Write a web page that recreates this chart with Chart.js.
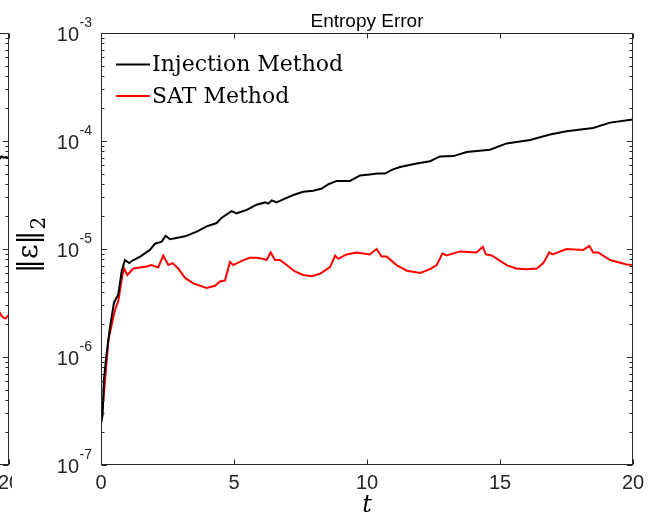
<!DOCTYPE html>
<html>
<head>
<meta charset="utf-8">
<script src="https://cdn.jsdelivr.net/npm/chart.js@4.4.1/dist/chart.umd.min.js"></script>
<style>
body { margin: 0; background: #fff; width: 657px; height: 521px; overflow: hidden; position: relative; }
#main { position: absolute; left: 0; top: 0; }
#leftWrap { position: absolute; left: 0; top: 0; width: 12px; height: 521px; overflow: hidden; }
#left { position: absolute; left: -624px; top: 0; }
</style>
</head>
<body>
<canvas id="main" width="657" height="521"></canvas>
<div id="leftWrap"><canvas id="left" width="657" height="521"></canvas></div>
<script>
// Entropy error
const titleText = 'Entropy Error';
const seriesNames = ['Injection Method', 'SAT Method'];
const seriesColors = ['#000000', '#ff0000'];
const xTicks = [0, 5, 10, 15, 20];
const yExps = [-7, -6, -5, -4, -3];

const tInjection = [0, 0.06, 0.11, 0.21, 0.34, 0.49, 0.65, 0.78, 0.90, 1.06, 1.22, 1.47, 1.84, 2.03, 2.28, 2.43, 2.60,
    3.16, 3.60, 3.97, 4.35, 4.54, 4.91, 5.10, 5.48, 5.85, 6.17, 6.29, 6.42, 6.60, 6.85, 7.23, 7.60, 7.98, 8.30, 8.55,
    8.86, 9.36, 9.74, 10.10, 10.40, 10.68, 10.93, 11.24, 11.87, 12.37, 12.74, 13.25, 13.75, 14.62, 15.25, 16.13,
    16.88, 17.50, 18.50, 19.14, 20.00];
const injection = [2.45e-7, 2.9e-7, 6.2e-7, 1.07e-6, 1.9e-6, 3.2e-6, 3.8e-6, 6.3e-6, 7.9e-6, 7.4e-6, 7.9e-6, 8.5e-6,
    9.8e-6, 1.12e-5, 1.17e-5, 1.32e-5, 1.23e-5, 1.31e-5, 1.45e-5, 1.62e-5, 1.74e-5, 1.95e-5, 2.24e-5, 2.14e-5, 2.3e-5,
    2.57e-5, 2.7e-5, 2.63e-5, 2.82e-5, 2.7e-5, 2.88e-5, 3.16e-5, 3.39e-5, 3.47e-5, 3.63e-5, 3.98e-5, 4.27e-5, 4.27e-5,
    4.8e-5, 4.9e-5, 5.0e-5, 5.0e-5, 5.4e-5, 5.75e-5, 6.2e-5, 6.5e-5, 7.2e-5, 7.25e-5, 7.9e-5, 8.3e-5, 9.5e-5, 1.02e-4,
    1.15e-4, 1.23e-4, 1.32e-4, 1.48e-4, 1.58e-4];

const tSat = [0, 0.09, 0.28, 0.53, 0.65, 0.81, 0.87, 0.99, 1.22, 1.71, 1.90, 2.15, 2.34, 2.53, 2.69, 2.90, 3.16, 3.47,
    3.97, 4.29, 4.47, 4.66, 4.85, 4.97, 5.35, 5.60, 5.85, 6.10, 6.23, 6.38, 6.54, 6.73, 6.98, 7.29, 7.60, 7.92, 8.23,
    8.61, 8.80, 8.92, 9.23, 9.61, 10.10, 10.36, 10.55, 10.74, 11.11, 11.50, 12.00, 12.37, 12.62, 12.84, 12.99, 13.50,
    14.12, 14.35, 14.47, 14.69, 15.25, 15.60, 16.00, 16.38, 16.63, 16.85, 16.98, 17.50, 18.13, 18.36, 18.50, 18.69,
    19.14, 19.76, 20.00];
const sat = [2.45e-7, 4.0e-7, 1.45e-6, 2.75e-6, 3.3e-6, 5.8e-6, 6.6e-6, 5.75e-6, 6.6e-6, 6.9e-6, 7.1e-6, 6.75e-6,
    8.7e-6, 7.1e-6, 7.4e-6, 6.6e-6, 5.4e-6, 4.8e-6, 4.35e-6, 4.57e-6, 5.0e-6, 5.1e-6, 7.6e-6, 7.1e-6, 7.9e-6, 8.3e-6,
    8.3e-6, 8.1e-6, 7.9e-6, 9.3e-6, 7.9e-6, 7.9e-6, 7.1e-6, 6.2e-6, 5.75e-6, 5.6e-6, 5.9e-6, 6.8e-6, 8.7e-6, 8.1e-6,
    8.9e-6, 9.3e-6, 8.9e-6, 1.0e-5, 8.5e-6, 8.5e-6, 7.1e-6, 6.3e-6, 6.0e-6, 6.5e-6, 7.1e-6, 9.1e-6, 8.7e-6, 9.5e-6,
    9.3e-6, 1.05e-5, 8.9e-6, 8.7e-6, 7.1e-6, 6.6e-6, 6.5e-6, 6.6e-6, 7.4e-6, 9.3e-6, 8.9e-6, 1.0e-5, 9.8e-6, 1.07e-5,
    9.3e-6, 9.3e-6, 7.9e-6, 7.2e-6, 7.1e-6];

// the neighbouring subplot, only its last bit shows at the left edge
const tLeft = [19.50, 19.60, 19.66, 19.72, 19.80, 19.88, 19.95, 20.00];
const leftInjection = [6.9e-5, 7.1e-5, 6.9e-5, 7.2e-5, 7.0e-5, 7.1e-5, 7.0e-5, 7.1e-5];
const leftSat = [2.5e-6, 2.45e-6, 2.55e-6, 2.4e-6, 2.3e-6, 2.28e-6, 2.4e-6, 2.38e-6];

const axisColor = '#262626';
const sansFont = '"Liberation Sans", Arial, sans-serif';
const serifFont = '"DejaVu Serif", serif';

const toPoints = (ts, vs) => ts.map((t, i) => ({ x: t, y: vs[i] }));

const framePlugin = {
    id: 'frame',
    afterDatasetsDraw(chart) {
        const { ctx, chartArea: a, scales: { x, y } } = chart;
        const L = Math.round(a.left) + 0.5, R = Math.round(a.right) - 0.5;
        const T = Math.round(a.top) + 0.5, B = Math.round(a.bottom) - 0.5;
        ctx.save();
        ctx.strokeStyle = axisColor;
        ctx.lineWidth = 1;
        ctx.strokeRect(L, T, R - L, B - T);
        ctx.beginPath();
        xTicks.forEach(v => {
            const px = Math.round(x.getPixelForValue(v)) + 0.5;
            ctx.moveTo(px, B); ctx.lineTo(px, B - 5);
            ctx.moveTo(px, T); ctx.lineTo(px, T + 5);
        });
        yExps.forEach((e, i) => {
            for (let m = 1; m <= 9; m++) {
                if (i === yExps.length - 1 && m > 1) break;
                const py = Math.round(y.getPixelForValue(m * Math.pow(10, e))) + 0.5;
                const len = m === 1 ? 5.5 : 3;
                ctx.moveTo(L, py); ctx.lineTo(L + len, py);
                ctx.moveTo(R, py); ctx.lineTo(R - len, py);
            }
        });
        ctx.stroke();

        // y tick labels 10^n
        ctx.fillStyle = axisColor;
        ctx.textAlign = 'right';
        ctx.textBaseline = 'alphabetic';
        yExps.forEach(e => {
            const py = y.getPixelForValue(Math.pow(10, e));
            const sup = String(e);
            ctx.font = '14px ' + sansFont;
            const supW = ctx.measureText(sup).width;
            ctx.fillText(sup, a.left - 9, py - 6);
            ctx.font = '20px ' + sansFont;
            ctx.fillText('10', a.left - 9 - supW - 0.5, py + 8);
        });

        // title
        ctx.fillStyle = '#000';
        ctx.textAlign = 'center';
        ctx.font = '19px ' + sansFont;
        ctx.fillText(titleText, (a.left + a.right) / 2, 27);

        // x label
        ctx.font = 'italic 24px ' + serifFont;
        ctx.fillText('t', (a.left + a.right) / 2, 512);

        // y label ||eps||_2
        ctx.save();
        ctx.translate(37, 245);
        ctx.rotate(-Math.PI / 2);
        ctx.font = '28px ' + serifFont;
        const main = '‖ε‖';
        const mw = ctx.measureText(main).width;
        ctx.font = '20px ' + serifFont;
        const sw = ctx.measureText('2').width;
        const x0 = -(mw + sw + 1) / 2;
        ctx.textAlign = 'left';
        ctx.font = '28px ' + serifFont;
        ctx.fillText(main, x0, 0);
        ctx.font = '20px ' + serifFont;
        ctx.fillText('2', x0 + mw + 1, 8);
        ctx.restore();

        // legend
        ctx.textAlign = 'left';
        ctx.font = '22px ' + serifFont;
        seriesNames.forEach((name, i) => {
            const ly = 64.5 + i * 31.5;
            ctx.strokeStyle = seriesColors[i];
            ctx.lineWidth = 2;
            ctx.beginPath();
            ctx.moveTo(116, ly); ctx.lineTo(150, ly);
            ctx.stroke();
            ctx.fillStyle = '#000';
            ctx.fillText(name, 152, ly + 6.5);
        });
        ctx.restore();
    }
};

function makeChart(id, sets) {
    return new Chart(document.getElementById(id), {
        type: 'line',
        data: {
            datasets: sets.map((s, i) => ({
                label: seriesNames[i],
                data: s,
                borderColor: seriesColors[i],
                borderWidth: 2,
                pointRadius: 0,
                tension: 0,
                fill: false
            }))
        },
        options: {
            responsive: false,
            animation: false,
            layout: { padding: { left: 0, right: 24, top: 33, bottom: 0 } },
            plugins: { legend: { display: false }, tooltip: { enabled: false } },
            scales: {
                x: {
                    type: 'linear',
                    min: 0,
                    max: 20,
                    afterBuildTicks: s => { s.ticks = xTicks.map(v => ({ value: v })); },
                    afterFit: s => { s.height = 56; },
                    grid: { display: false, drawTicks: false },
                    border: { display: false },
                    ticks: { color: axisColor, font: { family: sansFont, size: 20 }, padding: 6, maxRotation: 0 }
                },
                y: {
                    type: 'logarithmic',
                    min: 1e-7,
                    max: 1e-3,
                    afterFit: s => { s.width = 101; },
                    grid: { display: false, drawTicks: false },
                    border: { display: false },
                    ticks: { display: false }
                }
            }
        },
        plugins: [framePlugin]
    });
}

makeChart('main', [toPoints(tInjection, injection), toPoints(tSat, sat)]);
makeChart('left', [toPoints(tLeft, leftInjection), toPoints(tLeft, leftSat)]);
</script>
</body>
</html>
